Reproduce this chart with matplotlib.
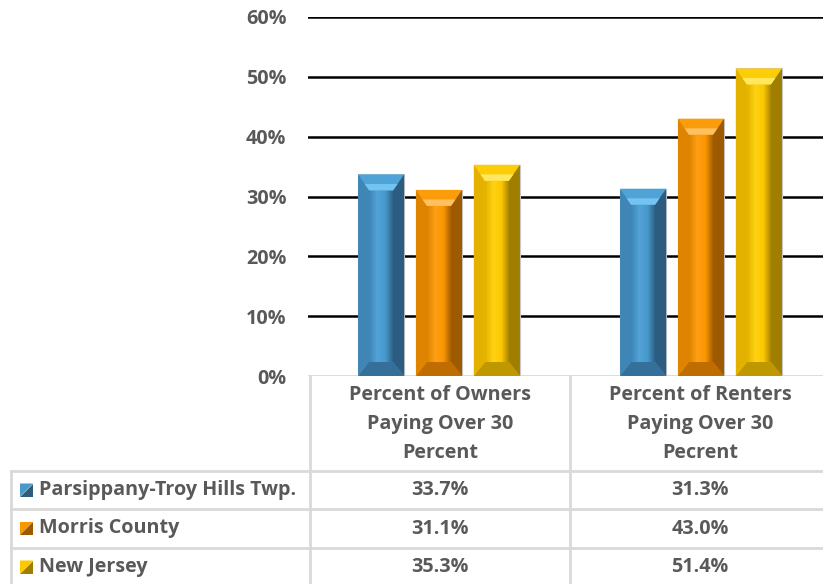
import numpy as np
import matplotlib.pyplot as plt
from matplotlib.patches import Polygon
from matplotlib.colors import LinearSegmentedColormap

# -------------------------------
# Data
# -------------------------------
categories = ["Percent of Owners\nPaying Over 30\nPercent",
              "Percent of Renters\nPaying Over 30\nPecrent"]
series = ["Parsippany-Troy Hills Twp.", "Morris County", "New Jersey"]
parsippany = [33.7, 31.3]
morris = [31.1, 43.0]
new_jersey = [35.3, 51.4]
yticks = [0, 10, 20, 30, 40, 50, 60]

values = [parsippany, morris, new_jersey]

# face, left, right, top, bottom, light, highlight
palette = [
    ("#4898cc", "#3f86b6", "#2c5d80", "#4fa3d6", "#35709a", "#52a3d8", "#74c4f2"),
    ("#fa9600", "#de8400", "#9e5a00", "#fb9c0a", "#bf6c00", "#ff9f14", "#ffc060"),
    ("#fcc800", "#e3b200", "#a07f00", "#fdcd08", "#bf9800", "#ffd212", "#ffe860"),
]

W, H = 823, 584
fig = plt.figure(figsize=(W / 100, H / 100), dpi=100)
plt.rcParams['font.family'] = ['Open Sans', 'DejaVu Sans']
txt = "#595959"
grid_gray = "#d9d9d9"
fs = 14.2


def fx(px):
    return px / W


def fy(py):
    return 1 - py / H


ax = fig.add_axes([fx(308), fy(376), (832 - 308) / W, (376 - 17) / H])
ax.set_xlim(-0.5, 1.5)
ax.set_ylim(0, 60)

x = np.arange(len(categories))
width = 0.176
step = 0.221

bars = []
for i, vals in enumerate(values):
    b = ax.bar(x + (i - 1) * step, vals, width, color=palette[i][0],
               edgecolor="#c8c8c8", linewidth=0.8, zorder=3)
    bars.append(b)

# gridlines
for t in yticks[1:]:
    ax.axhline(t, color="black", lw=1.8, zorder=1)
ax.axhline(0, color=grid_gray, lw=2, zorder=1)
for s in ax.spines.values():
    s.set_visible(False)
ax.set_xticks([])
ax.set_yticks(yticks)
ax.set_yticklabels([f"{t}%" for t in yticks], fontsize=fs, fontweight="bold", color=txt)
ax.tick_params(axis="y", length=0, pad=15.5)

# bevel effect on bars, drawn in pixel space then mapped to data
inv = ax.transData.inverted()
s_px, t_px, b_px = 11, 16, 14
for i, b in enumerate(bars):
    face, left, right, top, bottom, light, hl = palette[i]
    cmap = LinearSegmentedColormap.from_list("g", [left, light, face, right])
    for p in b.patches:
        (L, Bm), (R, T) = ax.transData.transform(
            [(p.get_x(), 0), (p.get_x() + p.get_width(), p.get_height())])
        f = 0.6
        pts = {
            "top": [(L, T), (R, T), (R - s_px, T - t_px), (L + s_px, T - t_px)],
            "bottom": [(L, Bm), (R, Bm), (R - s_px, Bm + b_px), (L + s_px, Bm + b_px)],
            "left": [(L, T), (L + s_px, T - t_px), (L + s_px, Bm + b_px), (L, Bm)],
            "right": [(R, T), (R - s_px, T - t_px), (R - s_px, Bm + b_px), (R, Bm)],
            "hl": [(L + s_px * f, T - t_px * f), (R - s_px * f, T - t_px * f),
                   (R - s_px, T - t_px), (L + s_px, T - t_px)],
        }
        cols = {"top": top, "bottom": bottom, "left": left, "right": right, "hl": hl}
        (x0, y0), (x1, y1) = inv.transform([(L + s_px, Bm + b_px), (R - s_px, T - t_px)])
        ax.imshow(np.linspace(0, 1, 50).reshape(1, -1), cmap=cmap, aspect="auto",
                  extent=(x0, x1, y0, y1), zorder=4)
        for k, poly in pts.items():
            ax.add_patch(Polygon(inv.transform(poly), closed=True,
                                 facecolor=cols[k], edgecolor="none", zorder=5))
ax.set_xlim(-0.5, 1.5)
ax.set_ylim(0, 60)

# -------------------------------
# Data table below the chart
# -------------------------------
def hline(y, x0, x1):
    fig.add_artist(plt.Line2D([fx(x0), fx(x1)], [fy(y), fy(y)], color=grid_gray, lw=2))


def vline(xp, y0, y1):
    fig.add_artist(plt.Line2D([fx(xp), fx(xp)], [fy(y0), fy(y1)], color=grid_gray, lw=2))


row_y = [471, 509, 548, 586]
for y in row_y[:3]:
    hline(y, 11, 830)
vline(11, 471, 590)
vline(310, 376, 590)
vline(570, 376, 590)

col_x = [440, 700]
for j, cat in enumerate(categories):
    fig.text(fx(col_x[j]), fy(424), cat, ha="center", va="center", fontsize=fs,
             fontweight="bold", color=txt, linespacing=1.57)

for i, name in enumerate(series):
    yc = (row_y[i] + row_y[i + 1]) / 2
    face, left, right, top, bottom, light, hl = palette[i]
    k0, k1 = 20, 33
    ya, yb = yc - 6.5, yc + 6.5
    fig.add_artist(Polygon([(fx(k0), fy(ya)), (fx(k1), fy(ya)), (fx(k0), fy(yb))],
                           closed=True, facecolor=face, edgecolor="none"))
    fig.add_artist(Polygon([(fx(k1), fy(ya)), (fx(k1), fy(yb)), (fx(k0), fy(yb))],
                           closed=True, facecolor=right, edgecolor="none"))
    fig.text(fx(39), fy(yc), name, ha="left", va="center", fontsize=fs,
             fontweight="bold", color=txt)
    for j in range(len(categories)):
        fig.text(fx(col_x[j]), fy(yc), f"{values[i][j]:.1f}%", ha="center", va="center",
                 fontsize=fs, fontweight="bold", color=txt)

fig.savefig("out.png", dpi=100)
